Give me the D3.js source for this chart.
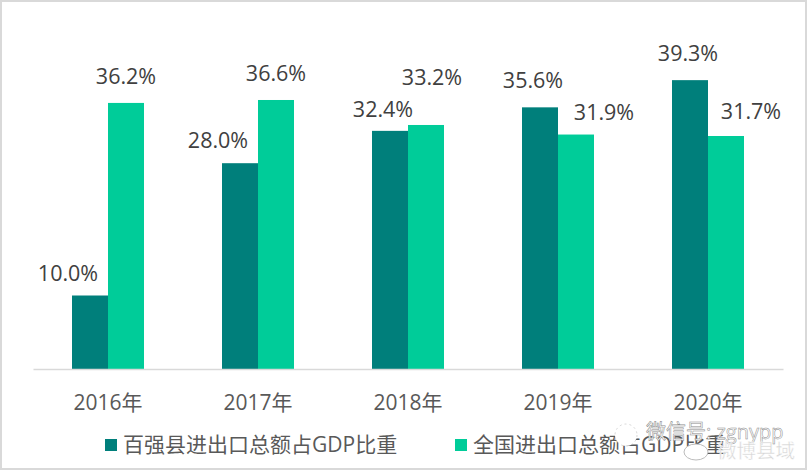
<!DOCTYPE html>
<html>
<head>
<meta charset="utf-8">
<script src="https://cdn.jsdelivr.net/npm/d3@7"></script>
<style>
  html, body { margin: 0; padding: 0; background: #fff; }
  text { font-family: "Open Sans", "Noto Sans CJK SC", sans-serif; }
</style>
</head>
<body>
<div id="chart"></div>
<script>
var years = ['2016年', '2017年', '2018年', '2019年', '2020年'];
var countyShare = [10.0, 28.0, 32.4, 35.6, 39.3];
var nationShare = [36.2, 36.6, 33.2, 31.9, 31.7];
var seriesNames = ['百强县进出口总额占GDP比重', '全国进出口总额占GDP比重'];

var width = 807, height = 470;
var colors = ['#007f7b', '#00cc99'];

var svg = d3.select('#chart').append('svg')
    .attr('width', width)
    .attr('height', height)
    .style('display', 'block');

// grey frame around the picture
svg.append('rect')
    .attr('x', 1).attr('y', 1)
    .attr('width', width - 2).attr('height', height - 2)
    .attr('fill', '#fff')
    .attr('stroke', '#d9d9d9')
    .attr('stroke-width', 2);

var x = d3.scaleBand().domain(years).range([33, 783]).padding(0);
var inner = d3.scaleBand().domain([0, 1]).range([33, 105]);
var y = d3.scaleLinear().domain([0, 40]).range([369, 75]);

var series = [countyShare, nationShare];
// label shift relative to the top middle of each bar, set by hand like in the original
var labelShift = [
    [[-22, -15], [-22, -15], [-7, -14], [-7, -19], [-2, -19]],
    [[0, -19], [0, -19], [6, -40], [28, -15], [25, -17]]
];

series.forEach(function(values, s) {
    var g = svg.append('g');
    g.selectAll('rect').data(values).enter().append('rect')
        .attr('x', function(d, i) { return x(years[i]) + 39 + inner(s) - 33; })
        .attr('y', function(d) { return y(d); })
        .attr('width', inner.bandwidth())
        .attr('height', function(d) { return y(0) - y(d); })
        .attr('fill', colors[s]);
    g.selectAll('text').data(values).enter().append('text')
        .attr('x', function(d, i) { return x(years[i]) + 39 + inner(s) - 33 + inner.bandwidth() / 2 + labelShift[s][i][0]; })
        .attr('y', function(d, i) { return y(d) + labelShift[s][i][1]; })
        .attr('text-anchor', 'middle')
        .attr('font-size', 21.5)
        .attr('fill', '#404040')
        .text(function(d) { return d.toFixed(1) + '%'; });
});

var axis = svg.append('g')
    .attr('transform', 'translate(0,369)')
    .call(d3.axisBottom(x).tickSize(0).tickPadding(26));
axis.select('.domain').attr('stroke', '#d9d9d9').attr('stroke-width', 1.5);
axis.selectAll('text')
    .attr('font-size', 21)
    .attr('fill', '#595959')
    .style('font-family', '"Open Sans", "Noto Sans CJK SC", sans-serif');

// legend
var legendX = [105, 455];
seriesNames.forEach(function(name, s) {
    svg.append('rect')
        .attr('x', legendX[s]).attr('y', 439)
        .attr('width', 12).attr('height', 12)
        .attr('fill', colors[s]);
    svg.append('text')
        .attr('x', legendX[s] + 18).attr('y', 452)
        .attr('font-size', 21)
        .attr('fill', '#595959')
        .text(name);
});

// watermarks
svg.append('circle').attr('cx', 626).attr('cy', 435).attr('r', 11)
    .attr('fill', '#fff').attr('stroke', '#bbb').attr('stroke-width', 0.6).attr('stroke-dasharray', '2 3');
svg.append('text').attr('x', 646).attr('y', 439).attr('font-size', 20)
    .attr('fill', '#fff').attr('stroke', '#8a8a8a').attr('stroke-width', 0.5)
    .text('微信号: zgnypp');
svg.append('ellipse').attr('cx', 696).attr('cy', 452).attr('rx', 12).attr('ry', 8)
    .attr('fill', '#fff').attr('stroke', '#aaa').attr('stroke-width', 0.8);
svg.append('text').attr('x', 717).attr('y', 458).attr('font-size', 19.5)
    .attr('fill', '#d6d6d6').attr('stroke', '#fff').attr('stroke-width', 0.4)
    .text('微博县域');
</script>
</body>
</html>
